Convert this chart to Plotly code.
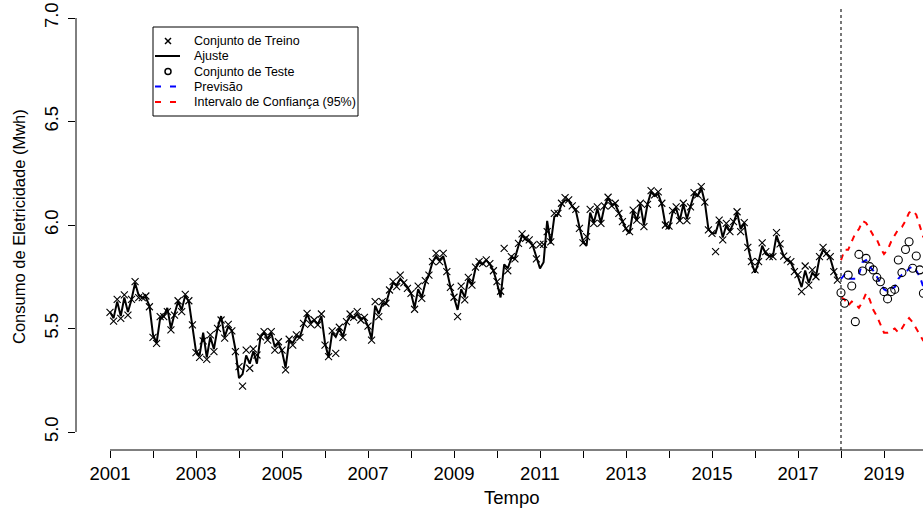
import plotly.graph_objects as go

# ---------------- data ----------------
# training set: monthly, Jan 2001 .. Dec 2017
treino = [
    5.578, 5.536, 5.641, 5.549, 5.662, 5.565, 5.641, 5.726, 5.649, 5.649, 5.657, 5.605,
    5.457, 5.428, 5.557, 5.557, 5.581, 5.493, 5.565, 5.634, 5.581, 5.665, 5.634, 5.517,
    5.383, 5.361, 5.440, 5.351, 5.469, 5.388, 5.501, 5.541, 5.453, 5.520, 5.489, 5.388,
    5.316, 5.222, 5.396, 5.308, 5.401, 5.372, 5.460, 5.485, 5.444, 5.485, 5.396, 5.436,
    5.396, 5.300, 5.448, 5.420, 5.469, 5.457, 5.525, 5.573, 5.520, 5.541, 5.517, 5.570,
    5.420, 5.364, 5.489, 5.380, 5.506, 5.457, 5.533, 5.570, 5.554, 5.581, 5.541, 5.554,
    5.512, 5.444, 5.630, 5.557, 5.630, 5.622, 5.686, 5.726, 5.702, 5.758, 5.720, 5.694,
    5.670, 5.593, 5.705, 5.646, 5.731, 5.758, 5.823, 5.863, 5.823, 5.863, 5.775, 5.699,
    5.651, 5.557, 5.705, 5.638, 5.747, 5.710, 5.796, 5.823, 5.815, 5.831, 5.813, 5.779,
    5.726, 5.680, 5.887, 5.779, 5.847, 5.836, 5.911, 5.957, 5.936, 5.928, 5.903, 5.836,
    5.906, 5.906, 5.968, 5.919, 6.056, 6.056, 6.105, 6.132, 6.121, 6.092, 6.076, 5.984,
    5.914, 5.944, 6.076, 6.008, 6.088, 6.008, 6.092, 6.134, 6.092, 6.105, 6.056, 6.016,
    5.984, 5.968, 6.072, 6.024, 6.105, 5.992, 6.100, 6.166, 6.145, 6.160, 6.105, 6.000,
    5.995, 6.069, 6.088, 6.021, 6.105, 6.021, 6.088, 6.156, 6.145, 6.185, 6.110, 5.976,
    5.960, 5.871, 6.024, 5.928, 6.008, 5.968, 6.016, 6.064, 5.968, 6.011, 5.892, 5.823,
    5.783, 5.823, 5.914, 5.871, 5.847, 5.847, 5.963, 5.909, 5.850, 5.831, 5.823, 5.775,
    5.760, 5.678, 5.802, 5.710, 5.783, 5.750, 5.847, 5.892, 5.863, 5.847, 5.775, 5.734,
]

# fitted values ("Ajuste") over the training period
ajuste = [
    5.58, 5.55, 5.63, 5.56, 5.65, 5.58, 5.64, 5.72, 5.66, 5.65, 5.65, 5.61,
    5.47, 5.43, 5.55, 5.56, 5.60, 5.50, 5.57, 5.63, 5.59, 5.66, 5.63, 5.52,
    5.39, 5.37, 5.48, 5.36, 5.46, 5.40, 5.50, 5.56, 5.46, 5.51, 5.49, 5.40,
    5.26, 5.28, 5.37, 5.33, 5.39, 5.33, 5.46, 5.48, 5.45, 5.48, 5.41, 5.43,
    5.39, 5.31, 5.44, 5.43, 5.46, 5.46, 5.52, 5.57, 5.53, 5.54, 5.52, 5.56,
    5.43, 5.36, 5.48, 5.46, 5.50, 5.46, 5.53, 5.56, 5.55, 5.57, 5.55, 5.55,
    5.51, 5.45, 5.61, 5.57, 5.62, 5.62, 5.68, 5.72, 5.71, 5.74, 5.72, 5.70,
    5.67, 5.60, 5.69, 5.65, 5.72, 5.76, 5.82, 5.85, 5.83, 5.85, 5.78, 5.70,
    5.65, 5.59, 5.69, 5.65, 5.74, 5.71, 5.79, 5.82, 5.81, 5.83, 5.81, 5.78,
    5.72, 5.65, 5.81, 5.79, 5.84, 5.84, 5.90, 5.95, 5.93, 5.92, 5.90, 5.84,
    5.79, 5.82, 6.02, 5.91, 6.04, 6.05, 6.10, 6.12, 6.12, 6.09, 6.07, 5.99,
    5.92, 5.90, 6.06, 6.01, 6.08, 6.01, 6.09, 6.13, 6.10, 6.10, 6.06, 6.02,
    5.98, 5.96, 6.07, 6.02, 6.10, 6.00, 6.10, 6.16, 6.14, 6.15, 6.10, 6.00,
    5.98, 6.06, 6.08, 6.02, 6.10, 6.03, 6.09, 6.15, 6.14, 6.18, 6.11, 5.98,
    5.96, 5.96, 6.02, 5.94, 6.00, 5.97, 6.01, 6.06, 5.98, 6.01, 5.90, 5.82,
    5.77, 5.82, 5.90, 5.86, 5.85, 5.85, 5.95, 5.90, 5.85, 5.83, 5.82, 5.78,
    5.75, 5.70, 5.78, 5.72, 5.77, 5.75, 5.84, 5.88, 5.86, 5.84, 5.78, 5.74,
]

# test set: monthly, Jan 2018 .. Dec 2019
teste = [
    5.673, 5.622, 5.758, 5.705, 5.533, 5.858, 5.778, 5.839, 5.799, 5.783, 5.747, 5.726,
    5.678, 5.643, 5.678, 5.689, 5.831, 5.770, 5.882, 5.919, 5.791, 5.850, 5.783, 5.670,
]

# forecast and 95% interval, Jan 2018 .. Dec 2019
previsao = [
    5.74, 5.76, 5.74, 5.74, 5.74, 5.76, 5.82, 5.83, 5.80, 5.78, 5.75, 5.72,
    5.69, 5.68, 5.69, 5.70, 5.74, 5.76, 5.77, 5.79, 5.80, 5.78, 5.75, 5.70,
]
ic_sup = [
    5.83, 5.88, 5.88, 5.92, 5.96, 5.98, 6.02, 6.01, 5.98, 5.95, 5.93, 5.89,
    5.86, 5.88, 5.92, 5.95, 5.98, 5.99, 6.02, 6.06, 6.07, 6.05, 6.00, 5.94,
]
ic_inf = [
    5.65, 5.64, 5.61, 5.63, 5.62, 5.60, 5.63, 5.67, 5.64, 5.59, 5.56, 5.52,
    5.48, 5.48, 5.49, 5.50, 5.48, 5.50, 5.53, 5.55, 5.53, 5.50, 5.47, 5.44,
]

inicio_treino = 2001
inicio_teste = 2018
anos = list(range(2001, 2022))
anos_rotulo = [str(a) if a % 2 == 1 else "" for a in anos]
y_ticks = [5.0, 5.5, 6.0, 6.5, 7.0]
y_rotulos = ["5.0", "5.5", "6.0", "6.5", "7.0"]

legenda = ["Conjunto de Treino", "Ajuste", "Conjunto de Teste", "Previsão",
           "Intervalo de Confiança (95%)"]

t_treino = [inicio_treino + k / 12 for k in range(len(treino))]
t_teste = [inicio_teste + k / 12 for k in range(len(teste))]

# ---------------- figure ----------------
W, H = 923, 508
L, R, T, B = 76, 0, 8, 58
PW, PH = W - L - R, H - T - B
FONT = "Liberation Sans, Arial, Helvetica, sans-serif"

def px(X):
    return (X - L) / PW

def py(Y):
    return (H - B - Y) / PH

fig = go.Figure()

fig.add_trace(go.Scatter(x=t_treino, y=ajuste, mode="lines",
                         line=dict(color="black", width=2), name="Ajuste"))
fig.add_trace(go.Scatter(x=t_treino, y=treino, mode="markers",
                         marker=dict(symbol="x-thin", size=7, color="black",
                                     line=dict(width=1.1, color="black")),
                         name="Conjunto de Treino"))
fig.add_trace(go.Scatter(x=t_teste, y=ic_sup, mode="lines",
                         line=dict(color="red", width=2, dash="6px,6px"),
                         name="IC sup"))
fig.add_trace(go.Scatter(x=t_teste, y=ic_inf, mode="lines",
                         line=dict(color="red", width=2, dash="6px,6px"),
                         name="IC inf"))
fig.add_trace(go.Scatter(x=t_teste, y=previsao, mode="lines",
                         line=dict(color="blue", width=2, dash="6px,6px"),
                         name="Previsão"))
fig.add_trace(go.Scatter(x=t_teste, y=teste, mode="markers",
                         marker=dict(symbol="circle-open", size=8, color="black",
                                     line=dict(width=1.1, color="black")),
                         name="Conjunto de Teste"))

shapes = []
# vertical dotted line at start of test period
shapes.append(dict(type="line", xref="x", yref="paper", x0=inicio_teste, x1=inicio_teste,
                   y0=0, y1=1, line=dict(color="#555555", width=1.6, dash="dot")))
# axis lines (R style)
shapes.append(dict(type="line", xref="x", yref="paper", x0=anos[0], x1=2021,
                   y0=0, y1=0, line=dict(color="black", width=1)))
shapes.append(dict(type="line", xref="paper", yref="y", x0=0, x1=0,
                   y0=y_ticks[0], y1=y_ticks[-1], line=dict(color="black", width=1)))

# legend box
shapes.append(dict(type="rect", xref="paper", yref="paper",
                   x0=px(153), x1=px(358), y0=py(27), y1=py(116),
                   line=dict(color="black", width=1), fillcolor="white", layer="above"))
ly = [41, 56, 71.5, 86.5, 102]
# x symbol
shapes.append(dict(type="line", xref="paper", yref="paper", x0=px(165), x1=px(171),
                   y0=py(ly[0] - 3), y1=py(ly[0] + 3), line=dict(color="black", width=1.5)))
shapes.append(dict(type="line", xref="paper", yref="paper", x0=px(165), x1=px(171),
                   y0=py(ly[0] + 3), y1=py(ly[0] - 3), line=dict(color="black", width=1.5)))
# solid line
shapes.append(dict(type="line", xref="paper", yref="paper", x0=px(155), x1=px(180),
                   y0=py(ly[1]), y1=py(ly[1]), line=dict(color="black", width=2)))
# circle
shapes.append(dict(type="circle", xref="paper", yref="paper", x0=px(165), x1=px(171),
                   y0=py(ly[2] - 3), y1=py(ly[2] + 3), line=dict(color="black", width=1.5)))
# dashed lines
for yy, col in [(ly[3], "blue"), (ly[4], "red")]:
    shapes.append(dict(type="line", xref="paper", yref="paper", x0=px(155), x1=px(180),
                       y0=py(yy), y1=py(yy),
                       line=dict(color=col, width=2, dash="6px,9px")))

annotations = []
for txt, yy in zip(legenda, ly):
    annotations.append(dict(text=txt, xref="paper", yref="paper", x=px(192), y=py(yy),
                            xanchor="left", yanchor="middle", showarrow=False,
                            font=dict(size=12.5, color="black", family=FONT)))
annotations.append(dict(text="Tempo", xref="paper", yref="paper", x=px(512), y=py(497),
                        xanchor="center", yanchor="middle", showarrow=False,
                        font=dict(size=18.5, color="black", family=FONT)))
annotations.append(dict(text="Consumo de Eletricidade (Mwh)", xref="paper", yref="paper",
                        x=px(19), y=py(227), textangle=-90, xanchor="center",
                        yanchor="middle", showarrow=False,
                        font=dict(size=16.5, color="black", family=FONT)))

x_lo = 2001 - (110 - L) / 43
x_hi = x_lo + PW / 43
y_lo = 5 - (H - B - 432) / 207
y_hi = y_lo + PH / 207

fig.update_layout(
    width=W, height=H,
    margin=dict(l=L, r=R, t=T, b=B, pad=0),
    paper_bgcolor="white", plot_bgcolor="white",
    showlegend=False,
    font=dict(family=FONT, color="black"),
    shapes=shapes, annotations=annotations,
    xaxis=dict(range=[x_lo, x_hi], tickvals=anos, ticktext=anos_rotulo,
               ticks="outside", ticklen=7, tickwidth=1, tickcolor="black",
               showline=False, showgrid=False, zeroline=False,
               tickfont=dict(size=18.5, color="black", family=FONT)),
    yaxis=dict(range=[y_lo, y_hi], tickvals=y_ticks, ticktext=y_rotulos,
               tickangle=-90, ticks="outside", ticklen=7, tickwidth=1,
               ticklabelstandoff=3,
               tickcolor="black", showline=False, showgrid=False, zeroline=False,
               tickfont=dict(size=18.5, color="black", family=FONT)),
)

fig.write_html("out.html", config={"displayModeBar": False},
               post_script="document.body.style.margin='0';document.body.style.overflow='hidden';")
